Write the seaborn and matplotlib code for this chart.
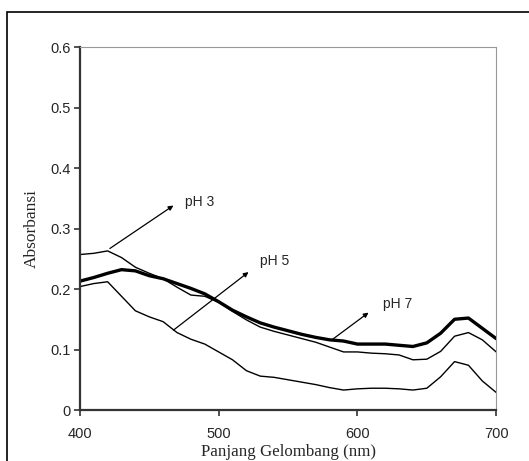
import matplotlib
matplotlib.use('Agg')
import matplotlib.pyplot as plt
import pandas as pd
import seaborn as sns
from matplotlib.patches import Rectangle

# wavelengths (nm) and absorbance
wavelength = list(range(400, 701, 10))
ph3 = [0.257, 0.259, 0.263, 0.252, 0.236, 0.226, 0.217, 0.203, 0.190, 0.188,
       0.178, 0.163, 0.149, 0.137, 0.130, 0.124, 0.118, 0.112, 0.104, 0.096,
       0.096, 0.094, 0.093, 0.091, 0.083, 0.084, 0.097, 0.122, 0.128, 0.116, 0.096]
ph5 = [0.204, 0.209, 0.212, 0.188, 0.164, 0.154, 0.146, 0.128, 0.117, 0.109,
       0.096, 0.083, 0.065, 0.056, 0.054, 0.050, 0.046, 0.042, 0.037, 0.033,
       0.035, 0.036, 0.036, 0.035, 0.033, 0.036, 0.055, 0.080, 0.074, 0.048, 0.029]
ph7 = [0.213, 0.219, 0.226, 0.232, 0.230, 0.222, 0.217, 0.209, 0.201, 0.192,
       0.179, 0.165, 0.154, 0.144, 0.137, 0.131, 0.125, 0.120, 0.116, 0.114,
       0.109, 0.109, 0.109, 0.107, 0.105, 0.111, 0.127, 0.150, 0.152, 0.135, 0.118]

labels = ['pH 3', 'pH 5', 'pH 7']
# arrow tail on the curve, arrow head, text anchor (data coords)
arrow_from = [(421.6, 0.267), (467.4, 0.132), (581.6, 0.116)]
arrow_to = [(467.4, 0.338), (521.5, 0.228), (608.0, 0.161)]
text_at = [(476, 0.344), (530, 0.247), (618.5, 0.176)]

sns.set_style('white')
plt.rcParams['font.family'] = ['Liberation Sans', 'DejaVu Sans']

df = pd.DataFrame({'wl': wavelength, 'pH 3': ph3, 'pH 5': ph5, 'pH 7': ph7})

fig = plt.figure(figsize=(5.29, 4.61), dpi=100)
ax = fig.add_axes([0.151, 0.1106, 0.787, 0.7874])

sns.lineplot(data=df, x='wl', y='pH 3', ax=ax, color='black', linewidth=1.0)
sns.lineplot(data=df, x='wl', y='pH 5', ax=ax, color='black', linewidth=1.0)
sns.lineplot(data=df, x='wl', y='pH 7', ax=ax, color='black', linewidth=2.4)

for lab, a, b, t in zip(labels, arrow_from, arrow_to, text_at):
    ax.annotate('', xy=b, xytext=a,
                arrowprops=dict(arrowstyle='-|>', color='black', lw=0.9,
                                mutation_scale=7, shrinkA=0, shrinkB=0))
    ax.text(t[0], t[1], lab, fontsize=10, va='center', ha='left')

ax.set_xlim(400, 700)
ax.set_ylim(0, 0.6)
ax.set_xticks([400, 500, 600, 700])
ax.set_yticks([0, 0.1, 0.2, 0.3, 0.4, 0.5, 0.6])
ax.set_yticklabels(['0', '0.1', '0.2', '0.3', '0.4', '0.5', '0.6'])
ax.tick_params(axis='both', direction='out', length=4, width=1.2, color='#333333',
               labelsize=10.5, pad=2.5, bottom=True, left=True)
ax.tick_params(axis='x', pad=8)

ax.set_xlabel('Panjang Gelombang (nm)', family='Liberation Serif', fontsize=12.2, labelpad=2.5)
ax.set_ylabel('Absorbansi', family='Liberation Serif', fontsize=12.5, labelpad=8)

for s in ['left', 'bottom']:
    ax.spines[s].set_color('#333333')
    ax.spines[s].set_linewidth(1.6)
for s in ['right', 'top']:
    ax.spines[s].set_color('#999999')
    ax.spines[s].set_linewidth(0.8)

# outer chart frame, runs off the right and bottom edges
fig.patches.append(Rectangle((7 / 529, -0.05), 1.0, 1 - 12 / 461 + 0.05,
                             transform=fig.transFigure, fill=False,
                             edgecolor='black', linewidth=1.2))

fig.savefig('out.png', dpi=100)
